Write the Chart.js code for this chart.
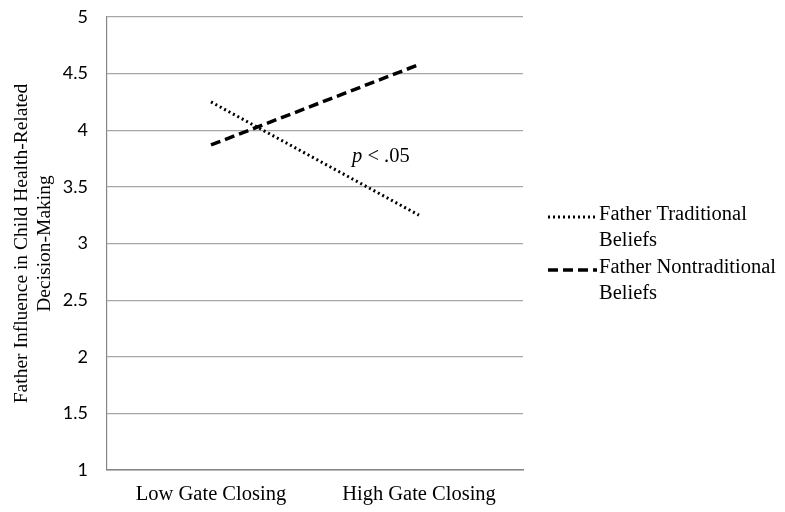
<!DOCTYPE html>
<html>
<head>
<meta charset="utf-8">
<script src="https://cdn.jsdelivr.net/npm/chart.js@4.4.0/dist/chart.umd.min.js"></script>
<style>
    html, body { margin: 0; padding: 0; background: #fff; }
    #wrap { width: 785px; height: 512px; }
</style>
</head>
<body>
<div id="wrap"><canvas id="grafico" width="785" height="512"></canvas></div>
<script>
var CATEGORIAS = ['Low Gate Closing', 'High Gate Closing'];
var TRADICIONAL = [4.25, 3.25];
var NO_TRADICIONAL = [3.87, 4.58];
var NOMBRES = [['Father Traditional', 'Beliefs'], ['Father Nontraditional', 'Beliefs']];
var TITULO_Y = ['Father Influence in Child Health-Related', 'Decision-Making'];
var NOTA = 'p < .05';

var SERIF = '"Liberation Serif", "Times New Roman", serif';
var SANS = 'Lato, "Open Sans", sans-serif';

// leyenda y nota dibujadas a mano
var extras = {
    id: 'extras',
    afterDraw: function (chart) {
        var ctx = chart.ctx;
        var area = chart.chartArea;
        var xs = chart.scales.x;
        var ys = chart.scales.y;

        ctx.save();
        ctx.fillStyle = '#000';
        ctx.textBaseline = 'middle';
        ctx.font = 'italic 20.5px ' + SERIF;
        var nx = (xs.getPixelForValue(0) + xs.getPixelForValue(1)) / 2 + 37;
        var ny = ys.getPixelForValue(3.77);
        ctx.fillText('p', nx, ny);
        var pw = ctx.measureText('p ').width;
        ctx.font = '20.5px ' + SERIF;
        ctx.fillText('< .05', nx + pw, ny);

        var tops = [215, 268];
        chart.data.datasets.forEach(function (ds, i) {
            var y = tops[i];
            ctx.beginPath();
            ctx.strokeStyle = '#000';
            ctx.lineWidth = ds.borderWidth;
            ctx.setLineDash(ds.borderDash);
            ctx.moveTo(area.right + 25, y + 2);
            ctx.lineTo(area.right + 74, y + 2);
            ctx.stroke();
            ctx.setLineDash([]);
            ctx.font = '20.5px ' + SERIF;
            ctx.fillText(NOMBRES[i][0], area.right + 76, y);
            ctx.fillText(NOMBRES[i][1], area.right + 76, y + 26);
        });
        ctx.restore();
    }
};

var GRAFICO = new Chart(document.getElementById('grafico'), {
    type: 'line',
    data: {
        labels: CATEGORIAS,
        datasets: [
            {
                label: NOMBRES[0].join(' '),
                data: TRADICIONAL,
                borderColor: '#000',
                borderWidth: 3,
                borderDash: [2, 3],
                pointRadius: 0,
                fill: false
            },
            {
                label: NOMBRES[1].join(' '),
                data: NO_TRADICIONAL,
                borderColor: '#000',
                borderWidth: 3.5,
                borderDash: [10, 5],
                pointRadius: 0,
                fill: false
            }
        ]
    },
    options: {
        responsive: false,
        animation: false,
        layout: { padding: { top: 17, right: 262, left: 0, bottom: 0 } },
        plugins: {
            legend: { display: false },
            tooltip: { enabled: false }
        },
        scales: {
            x: {
                offset: true,
                grid: { display: false, drawTicks: false },
                border: { color: '#868686', width: 1.5 },
                ticks: {
                    color: '#000',
                    font: { family: SERIF, size: 20.5 },
                    padding: 12,
                    maxRotation: 0
                },
                afterFit: function (scale) { scale.height = 42; }
            },
            y: {
                min: 1,
                max: 5,
                grid: { color: '#a6a6a6', lineWidth: 1.2, drawTicks: false },
                border: { color: '#868686', width: 1.2 },
                ticks: {
                    stepSize: 0.5,
                    color: '#000',
                    font: { family: SANS, size: 18 },
                    padding: 19,
                    callback: function (v) { return String(v); }
                },
                title: {
                    display: true,
                    text: TITULO_Y,
                    color: '#000',
                    font: { family: SERIF, size: 19.5, lineHeight: 1.2 },
                    padding: { top: 10, bottom: 0 }
                },
                afterFit: function (scale) {
                    scale.width = 107;
                    scale.paddingTop = 11;
                    scale.paddingBottom = 11;
                }
            }
        }
    },
    plugins: [extras]
});
</script>
</body>
</html>
